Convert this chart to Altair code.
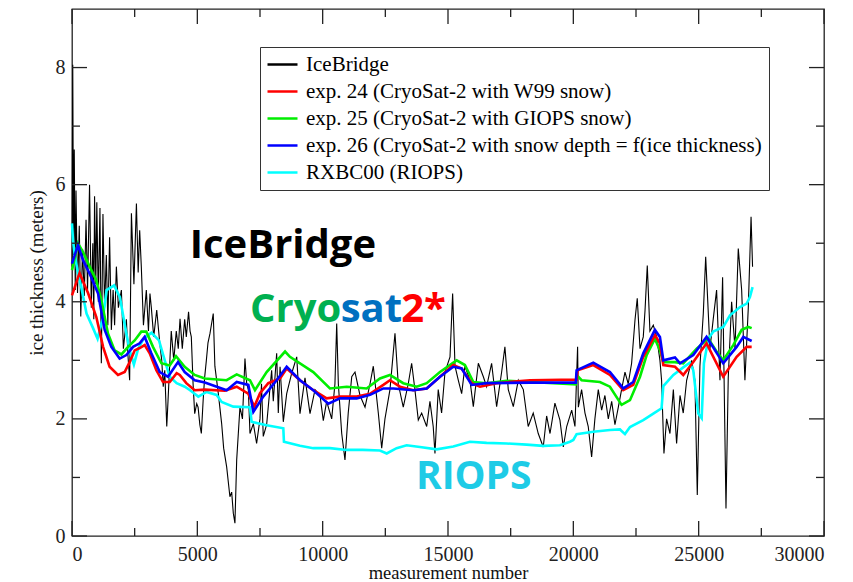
import altair as alt
import pandas as pd

# ---------------- data ----------------
series_names = [
    "IceBridge",
    "exp. 24 (CryoSat-2 with W99 snow)",
    "exp. 25 (CryoSat-2 with GIOPS snow)",
    "exp. 26 (CryoSat-2 with snow depth = f(ice thickness)",
    "RXBC00 (RIOPS)",
]
series_colors = ["#000000", "#ff0000", "#00ee00", "#0000ff", "#00ffff"]

ice_x = [0, 30, 60, 90, 130, 160, 220, 290, 350, 420, 490, 560, 620, 700, 770, 830, 870, 900, 950, 990,
         1050, 1115, 1170, 1235, 1300, 1370, 1430, 1500, 1570, 1640, 1700, 1770, 1850, 1970, 2050, 2170,
         2230, 2300, 2370, 2470, 2570, 2640, 2700, 2765, 2850, 2965, 3050, 3110, 3165, 3260, 3380, 3500,
         3580, 3640, 3700, 3780, 3830, 3960, 4060, 4160, 4240, 4310, 4400, 4495, 4560, 4650, 4710, 4760,
         4830, 4895, 4975, 5030, 5100, 5160, 5230, 5290, 5360, 5425, 5505, 5635, 5700, 5835, 5970, 6050,
         6170, 6300, 6370, 6435, 6500, 6570, 6700, 6800, 6900, 6970, 7035, 7100, 7235, 7365, 7500, 7560,
         7630, 7765, 7850, 7965, 8030, 8165, 8230, 8300, 8430, 8565, 8765, 8965, 9095, 9295, 9495, 9695,
         9895, 10025, 10160, 10360, 10490, 10560, 10625, 10760, 10890, 11020, 11160, 11290, 11490, 11690,
         11890, 12020, 12220, 12355, 12485, 12685, 12885, 13015, 13215, 13415, 13550, 13680, 13815, 13950,
         14150, 14280, 14410, 14480, 14610, 14745, 14880, 15080, 15185, 15280, 15410, 15545, 15675, 15875,
         16010, 16210, 16410, 16540, 16740, 16940, 17140, 17270, 17405, 17605, 17805, 18005, 18200, 18400,
         18600, 18800, 18935, 19070, 19265, 19465, 19600, 19735, 19935, 20065, 20170, 20200, 20330, 20465,
         20595, 20730, 20860, 20995, 21130, 21260, 21395, 21530, 21660, 21795, 21925, 22060, 22190, 22325,
         22460, 22550, 22660, 22790, 22860, 22950, 23055, 23190, 23325, 23455, 23520, 23615, 23720, 23855,
         23990, 24120, 24255, 24385, 24520, 24720, 24850, 24945, 25050, 25185, 25280, 25450, 25580, 25715,
         25850, 25955, 26090, 26180, 26315, 26450, 26580, 26715, 26845, 26980, 27090, 27150]
ice_y = [4.6, 8.05, 4.8, 6.6, 4.2, 5.9, 4.15, 5.3, 3.75, 4.9, 4.1, 5.4, 4.2, 6.0, 3.9, 5.0, 3.7, 5.8, 4.3, 5.7,
         4.0, 5.6, 2.95, 5.5, 3.9, 4.8, 3.6, 5.1, 3.52, 4.2, 3.6, 4.6, 3.9, 4.2, 3.2, 3.7,
         3.1, 2.66, 5.51, 4.3, 5.68, 4.5, 5.22, 4.6, 3.6, 4.2, 3.5, 4.14, 3.9, 3.4, 3.86, 3.3,
         3.0, 2.55, 2.83, 1.87, 2.3, 3.5, 3.0, 3.5, 3.2, 3.71, 3.2, 3.7, 3.4, 3.83, 3.5, 3.4,
         2.6, 2.09, 2.26, 2.2, 1.9, 1.75, 2.3, 2.7, 3.0, 3.3, 3.46, 3.8, 2.9, 2.44, 1.92, 1.5,
         1.18, 0.67, 0.75, 0.39, 0.22, 1.30, 2.2, 2.0, 3.03, 2.6, 2.5, 1.75, 1.92, 1.58, 2.0, 2.6,
         1.7, 1.9, 2.3, 2.83, 2.3, 3.12, 2.1, 2.89, 1.95, 2.43, 2.78, 3.06, 2.09, 2.7, 2.09, 2.5,
         2.4, 1.97, 2.3, 2.0, 2.6, 3.63, 2.6, 1.75, 1.30, 2.1, 2.72, 2.8, 2.4, 2.2,
         2.6, 2.9, 2.1, 1.50, 2.0, 2.5, 3.46, 2.6, 2.2, 2.6, 2.95, 2.5, 1.98, 2.1,
         1.87, 2.3, 1.87, 1.41, 2.5, 2.1, 2.8, 3.06, 4.14, 2.9, 2.66, 2.43, 2.9, 2.66,
         2.21, 2.95, 2.72, 2.55, 2.95, 2.21, 2.8, 3.23, 2.5, 2.21, 2.66, 2.5, 1.87, 2.1,
         1.75, 1.52, 2.05, 1.75, 2.27, 1.98, 1.52, 1.87, 2.15, 1.87, 3.23, 2.2, 2.5, 2.1,
         1.87, 1.35, 2.0, 2.5, 2.15, 2.4, 2.0, 2.3, 1.9, 2.2, 2.5, 2.8, 2.6, 2.95,
         3.69, 4.06, 3.2, 3.4, 3.85, 4.62, 3.5, 3.6, 3.4, 3.0, 2.66, 1.41, 2.0, 1.75,
         2.5, 1.58, 2.4, 2.1, 2.66, 3.0, 2.66, 0.70, 2.9, 3.8, 4.77, 3.2, 3.7, 4.2,
         2.66, 4.42, 0.47, 2.7, 4.0, 3.2, 4.91, 4.2, 2.66, 3.9, 5.45, 4.6]

exp24_x = [0, 300, 640, 970, 1240, 1500, 1835, 2100, 2300, 2500, 2700, 2900, 3100, 3365, 3630, 3900, 4175,
           4300, 4560, 4895, 5300, 6100, 6570, 7030, 7275, 7500, 7830, 8300, 8565, 9095, 9625, 10160,
           10690, 11360, 11890, 12420, 12685, 13085, 13615, 14150, 14680, 15210, 15545, 15945, 16275,
           16940, 18270, 20130, 20170, 20795, 21460, 21990, 22390, 22790, 23255, 23455, 23590, 24055,
           24385, 24785, 25315, 25980, 26515, 26915, 27115]
exp24_y = [4.11, 4.49, 4.15, 3.74, 3.23, 2.89, 2.75, 2.80, 2.97, 3.17, 3.21, 3.26, 3.12, 2.83, 2.63, 2.63, 2.78,
           2.75, 2.61, 2.49, 2.50, 2.48, 2.55, 2.43, 2.21, 2.44, 2.61, 2.69, 2.86, 2.66, 2.49, 2.35,
           2.38, 2.38, 2.43, 2.58, 2.66, 2.55, 2.49, 2.52, 2.72, 2.92, 2.86, 2.61, 2.55,
           2.61, 2.66, 2.67, 2.83, 2.92, 2.75, 2.49, 2.58, 3.06, 3.43, 3.29, 2.92, 2.89,
           2.75, 2.97, 3.29, 2.72, 3.06, 3.23, 3.23]

exp25_x = [0, 240, 440, 705, 970, 1170, 1435, 1700, 1970, 2235, 2500, 2765, 2965, 3230, 3565, 3895, 4150,
           4495, 4895, 5300, 6170, 6570, 7100, 7300, 7765, 8500, 8695, 9625, 10290, 10960, 11755, 12285,
           12685, 13215, 13750, 14150, 14680, 15345, 15675, 16010, 16540, 17340, 18270, 20100, 20130,
           20330, 21060, 21460, 21925, 22260, 22660, 22925, 23255, 23455, 23590, 24055, 24385, 24920,
           25385, 25715, 25980, 26380, 26715, 26980, 27115]
exp25_y = [4.54, 5.0, 4.85, 4.6, 4.37, 4.03, 3.46, 3.17, 3.10, 3.23, 3.34, 3.49, 3.49, 3.23, 2.95, 2.91, 3.07,
           2.89, 2.75, 2.69, 2.66, 2.76, 2.66, 2.49, 2.8, 3.15, 3.06, 2.80, 2.52, 2.55, 2.52, 2.69,
           2.75, 2.61, 2.55, 2.61, 2.80, 3.0, 2.92, 2.63, 2.61, 2.65, 2.63, 2.59, 2.75,
           2.66, 2.63, 2.55, 2.24, 2.32, 2.72, 3.09, 3.37, 3.17, 2.97, 2.97, 2.95, 3.20,
           3.37, 3.15, 3.0, 3.26, 3.52, 3.57, 3.55]

exp26_x = [0, 240, 440, 705, 1040, 1305, 1570, 1900, 2170, 2435, 2700, 2900, 3165, 3500, 3830, 4230, 4495,
           4895, 5300, 6170, 6570, 7035, 7235, 7630, 8165, 8565, 9095, 9625, 10225, 10690, 11360, 11890,
           12420, 12820, 13615, 14150, 14680, 15210, 15545, 15945, 16540, 18270, 20100, 20130, 20795,
           21460, 21990, 22390, 22790, 23255, 23455, 23590, 24055, 24255, 24785, 25315, 25980, 26515,
           26780, 27115]
exp26_y = [4.65, 4.97, 4.71, 4.48, 4.14, 3.52, 3.23, 3.03, 3.09, 3.23, 3.29, 3.40, 3.12, 2.80, 2.72, 2.97, 2.80,
           2.66, 2.62, 2.49, 2.63, 2.58, 2.12, 2.38, 2.66, 2.89, 2.66, 2.49, 2.26, 2.35, 2.35, 2.41,
           2.52, 2.52, 2.49, 2.52, 2.72, 2.89, 2.86, 2.58, 2.61, 2.62, 2.62, 2.83, 2.96,
           2.80, 2.52, 2.63, 3.12, 3.52, 3.40, 3.0, 3.05, 2.95, 3.09, 3.40, 2.95, 3.23,
           3.40, 3.33]

riops_x = [0, 40, 105, 240, 370, 580, 840, 1020, 1240, 1380, 1680, 1910, 2150, 2300, 2470, 2640, 2870, 3170,
           3470, 3700, 3900, 4175, 4500, 4710, 5040, 5370, 5770, 5970, 6435, 7100, 7165, 7765, 8430, 8455,
           9095, 9625, 10290, 10960, 11600, 12285, 12555, 12950, 13350, 13880, 14550, 15210, 15875, 16540,
           17340, 18135, 18800, 19465, 19865, 20000, 20130, 20795, 21460, 21860, 22060, 22260, 22790,
           23190, 23520, 23590, 23990, 24385, 24650, 24785, 24985, 25120, 25210, 25385, 25580, 25980,
           26250, 26650, 26915, 27045, 27150]
riops_y = [5.34, 5.05, 4.82, 4.48, 4.25, 3.80, 3.55, 3.37, 3.74, 4.20, 4.28, 4.08, 3.50, 3.17, 2.93, 3.20, 3.38, 3.47,
           3.34, 3.0, 2.72, 2.61, 2.55, 2.49, 2.38, 2.46, 2.41, 2.29, 2.21, 2.20, 1.95, 1.89, 1.84, 1.61,
           1.54, 1.50, 1.50, 1.47, 1.47, 1.46, 1.41, 1.50, 1.55, 1.52, 1.48, 1.53, 1.61, 1.59,
           1.58, 1.56, 1.54, 1.55, 1.61, 1.64, 1.74, 1.78, 1.81, 1.82, 1.74, 1.86, 1.98,
           2.09, 2.18, 2.56, 2.75, 2.88, 2.96, 2.83, 2.09, 2.01, 2.95, 3.37, 3.49, 3.57,
           3.77, 3.91, 3.97, 4.08, 4.25]

x_major = [0, 5000, 10000, 15000, 20000, 25000, 30000]
x_minor = [2500, 7500, 12500, 17500, 22500, 27500]
y_major = [0, 2, 4, 6, 8]
y_minor = [1, 3, 5, 7]

# annotations: (text, colour, x, y baseline in data units, font size)
annotations = [
    ("IceBridge", "#000000", 4700, 4.75, 40),
    ("Cryo", "#00b050", 7100, 3.65, 40),
    ("sat", "#0070c0", 10720, 3.65, 40),
    ("2*", "#ff0000", 13130, 3.65, 40),
    ("RIOPS", "#1ecbe6", 13720, 0.81, 39),
]

SERIF = "Liberation Serif, Times New Roman, DejaVu Serif, serif"

# ---------------- build tables ----------------
def frame(xs, ys, name):
    return pd.DataFrame({"x": xs, "y": ys, "series": name})

df_ice = frame(ice_x, ice_y, series_names[0])
df_24 = frame(exp24_x, exp24_y, series_names[1])
df_25 = frame(exp25_x, exp25_y, series_names[2])
df_26 = frame(exp26_x, exp26_y, series_names[3])
df_ri = frame(riops_x, riops_y, series_names[4])

W, H = 752, 527
XS = alt.Scale(domain=[0, 30000], nice=False, zero=False)
YS = alt.Scale(domain=[0, 9], nice=False, zero=False)

color = alt.Color(
    "series:N",
    scale=alt.Scale(domain=series_names, range=series_colors),
    sort=series_names,
    legend=alt.Legend(
        title=None, orient="none", legendX=188, legendY=38,
        symbolType="M-2,0H2", symbolSize=225, symbolStrokeWidth=2.5, symbolOffset=5,
        labelFont=SERIF, labelFontSize=21, labelColor="#000000",
        labelLimit=1000, labelOffset=13,
        strokeColor="#333333", fillColor="#ffffff", padding=7, rowPadding=5,
        cornerRadius=0,
    ),
)

x_enc = alt.X(
    "x:Q", scale=XS,
    axis=alt.Axis(values=x_major, tickSize=0, domain=False, grid=False, format="d",
                  labelFont=SERIF, labelFontSize=20, labelColor="#222222",
                  labelPadding=8, title="measurement number", titleFont=SERIF,
                  titleFontSize=18.5, titleFontWeight="normal", titleColor="#111111", titlePadding=-1),
)
y_enc = alt.Y(
    "y:Q", scale=YS,
    axis=alt.Axis(values=y_major, tickSize=0, domain=False, grid=False, format="d",
                  labelFont=SERIF, labelFontSize=20, labelColor="#222222",
                  labelPadding=7, title="ice thickness (meters)", titleFont=SERIF,
                  titleFontSize=19, titleFontWeight="normal", titleColor="#111111", titlePadding=9),
)


def line(df, width):
    return alt.Chart(df).mark_line(strokeWidth=width, interpolate="linear").encode(
        x=x_enc, y=y_enc, color=color
    )


ice = line(df_ice, 1.1)
ri = line(df_ri, 2.6)
e25 = line(df_25, 2.6)
e24 = line(df_24, 2.6)
e26 = line(df_26, 2.6)

# inward ticks on all four sides
def xticks(vals, length):
    d = pd.DataFrame({"v": vals})
    b = alt.Chart(d).mark_rule(color="#222222", strokeWidth=1.3).encode(
        x=alt.X("v:Q", scale=XS), y=alt.value(H), y2=alt.value(H - length))
    t = alt.Chart(d).mark_rule(color="#222222", strokeWidth=1.3).encode(
        x=alt.X("v:Q", scale=XS), y=alt.value(0), y2=alt.value(length))
    return b + t


def yticks(vals, length):
    d = pd.DataFrame({"v": vals})
    l = alt.Chart(d).mark_rule(color="#222222", strokeWidth=1.3).encode(
        y=alt.Y("v:Q", scale=YS), x=alt.value(0), x2=alt.value(length))
    r = alt.Chart(d).mark_rule(color="#222222", strokeWidth=1.3).encode(
        y=alt.Y("v:Q", scale=YS), x=alt.value(W), x2=alt.value(W - length))
    return l + r


ticks = xticks(x_major, 15) + xticks(x_minor, 8) + yticks(y_major, 15) + yticks(y_minor, 8)

texts = []
for txt, col, tx, ty, fs in annotations:
    texts.append(
        alt.Chart(pd.DataFrame({"t": [txt]})).mark_text(
            text=txt, color=col, font="Open Sans", fontWeight="bold", fontSize=fs,
            align="left", baseline="alphabetic",
        ).encode(x=alt.datum(tx, scale=XS), y=alt.datum(ty, scale=YS))
    )

chart = alt.layer(ice, ri, e25, e24, e26, ticks, *texts).properties(
    width=W, height=H,
    padding={"left": 72, "top": 9, "right": 29, "bottom": 46},
    autosize="none",
    background="white",
).configure_view(stroke="#222222", strokeWidth=1.3)

chart.save("out.html", embed_options={"renderer": "svg", "actions": False})
